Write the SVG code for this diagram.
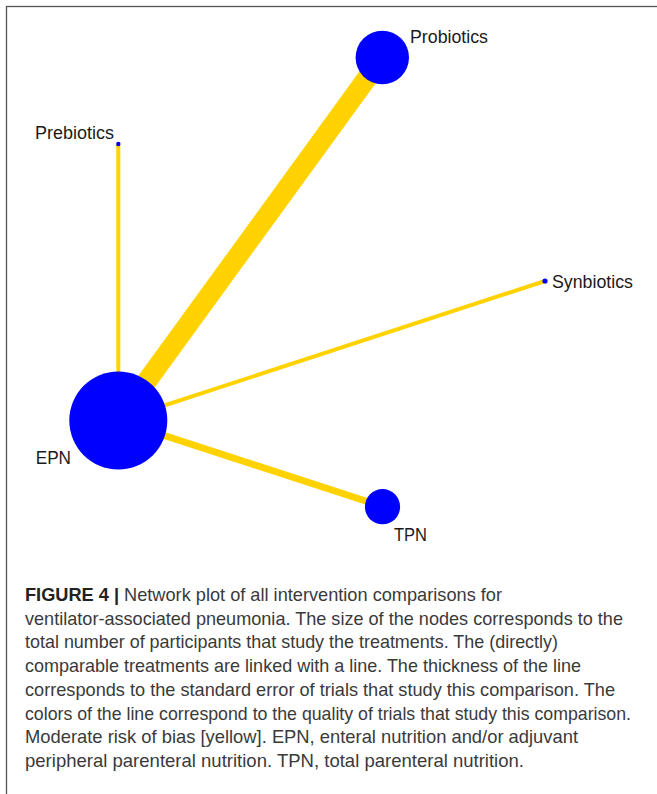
<svg xmlns="http://www.w3.org/2000/svg" width="657" height="794" viewBox="0 0 657 794">
<style>
.edge{stroke:#FFD200;stroke-linecap:butt;fill:none}
.node{fill:#0000FF}
.lbl{font-family:"Liberation Sans",Arial,sans-serif;font-size:17.5px;fill:#1a1a1a}
.cap{font-family:"Liberation Sans",Arial,sans-serif;font-size:18.5px;fill:#3a3a3a}
.b{font-weight:bold;fill:#222}
</style>
<rect x="0" y="0" width="657" height="794" fill="#fff"/>
<rect x="6.5" y="6.5" width="700" height="820" fill="none" stroke="#555" stroke-width="1.3"/>
<g id="connectors">
<line class="edge" x1="118.3" y1="420.5" x2="118.3" y2="144" stroke-width="4"/>
<line class="edge" x1="118.3" y1="420.5" x2="382" y2="57.5" stroke-width="20"/>
<line class="edge" x1="118.3" y1="420.5" x2="545" y2="281" stroke-width="4"/>
<line class="edge" x1="118.3" y1="420.5" x2="382.5" y2="506.5" stroke-width="7"/>
</g>
<g id="node-probiotics">
<circle class="node" cx="382.3" cy="57.5" r="26.7"/>
<text class="lbl" x="410" y="42.7" textLength="78" lengthAdjust="spacingAndGlyphs">Probiotics</text>
</g>
<g id="node-prebiotics">
<circle class="node" cx="118.3" cy="144" r="2.2"/>
<text class="lbl" x="35" y="139" textLength="79" lengthAdjust="spacingAndGlyphs">Prebiotics</text>
</g>
<g id="node-synbiotics">
<circle class="node" cx="545" cy="281" r="2.6"/>
<text class="lbl" x="552" y="288" textLength="81" lengthAdjust="spacingAndGlyphs">Synbiotics</text>
</g>
<g id="node-epn">
<circle class="node" cx="118.3" cy="420.5" r="49"/>
<text class="lbl" x="35.7" y="464" textLength="35.3" lengthAdjust="spacingAndGlyphs">EPN</text>
</g>
<g id="node-tpn">
<circle class="node" cx="382.5" cy="506.7" r="17.6"/>
<text class="lbl" x="394" y="541" textLength="33" lengthAdjust="spacingAndGlyphs">TPN</text>
</g>
<g id="caption">
<text class="cap" x="25" y="601" textLength="477" lengthAdjust="spacingAndGlyphs"><tspan class="b">FIGURE 4 |</tspan> Network plot of all intervention comparisons for</text>
<text class="cap" x="25" y="624.7" textLength="598" lengthAdjust="spacingAndGlyphs">ventilator-associated pneumonia. The size of the nodes corresponds to the</text>
<text class="cap" x="25" y="648.4" textLength="533" lengthAdjust="spacingAndGlyphs">total number of participants that study the treatments. The (directly)</text>
<text class="cap" x="25" y="672.1" textLength="556" lengthAdjust="spacingAndGlyphs">comparable treatments are linked with a line. The thickness of the line</text>
<text class="cap" x="25" y="695.8" textLength="590" lengthAdjust="spacingAndGlyphs">corresponds to the standard error of trials that study this comparison. The</text>
<text class="cap" x="25" y="719.5" textLength="606" lengthAdjust="spacingAndGlyphs">colors of the line correspond to the quality of trials that study this comparison.</text>
<text class="cap" x="25" y="743.2" textLength="553" lengthAdjust="spacingAndGlyphs">Moderate risk of bias [yellow]. EPN, enteral nutrition and/or adjuvant</text>
<text class="cap" x="25" y="766.9" textLength="499" lengthAdjust="spacingAndGlyphs">peripheral parenteral nutrition. TPN, total parenteral nutrition.</text>
</g>
</svg>
